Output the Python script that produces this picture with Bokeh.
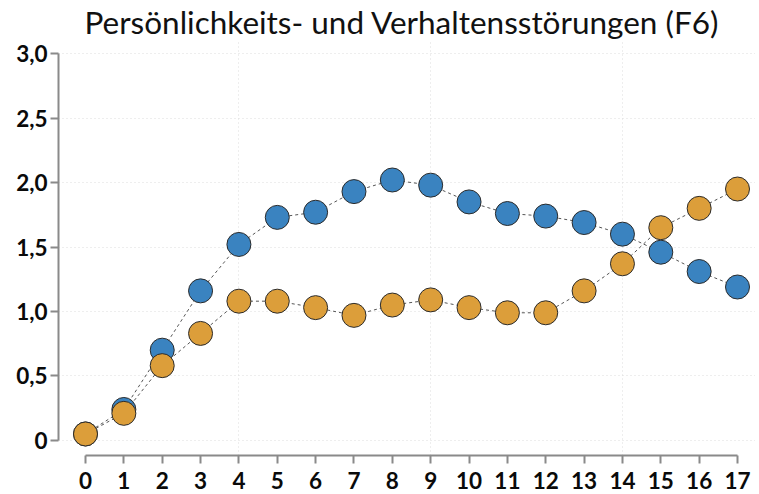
from bokeh.plotting import figure
from bokeh.models import Range1d, FixedTicker, ColumnDataSource
from bokeh.embed import file_html
from bokeh.resources import INLINE

title_text = "Persönlichkeits- und Verhaltensstörungen (F6)"
years = list(range(18))
blue_vals = [0.05, 0.24, 0.70, 1.16, 1.52, 1.73, 1.77, 1.93, 2.02, 1.98,
             1.85, 1.76, 1.74, 1.69, 1.60, 1.46, 1.31, 1.19]
orange_vals = [0.05, 0.21, 0.58, 0.83, 1.08, 1.08, 1.03, 0.97, 1.05, 1.09,
               1.03, 0.99, 0.99, 1.16, 1.37, 1.65, 1.80, 1.95]
y_ticks = [0, 0.5, 1.0, 1.5, 2.0, 2.5, 3.0]
y_tick_labels = ["0", "0,5", "1,0", "1,5", "2,0", "2,5", "3,0"]
x_ticks = list(range(18))
grid_x = [4, 9, 14]

BLUE = "#3a83c0"
ORANGE = "#dc9e3a"
FONT = "Lato"

p = figure(width=755, height=492, output_backend="svg",
           toolbar_location=None,
           x_range=Range1d(-0.704, 17.469), y_range=Range1d(-0.117, 3.102),
           min_border_left=58, min_border_right=0, min_border_top=0,
           min_border_bottom=37)

p.title.text = title_text
p.title.align = "left"
p.title.text_font = FONT
p.title.text_font_style = "normal"
p.title.text_font_size = "31.5px"
p.title.text_color = "#111111"
p.title.standoff = 0
p.title.offset = 26

p.outline_line_color = None

for ax in (p.xaxis[0], p.yaxis[0]):
    ax.axis_line_color = "#8a8a8a"
    ax.axis_line_width = 2
    ax.major_tick_line_color = "#8a8a8a"
    ax.major_tick_line_width = 2
    ax.major_tick_out = 8
    ax.major_tick_in = 0
    ax.minor_tick_line_color = None
    ax.major_label_text_font = FONT
    ax.major_label_text_font_style = "bold"
    ax.major_label_text_font_size = "22.5px"
    ax.major_label_text_color = "#0a0a0a"

p.xaxis[0].ticker = FixedTicker(ticks=x_ticks)
p.xaxis[0].bounds = (0, 17)
p.xaxis[0].major_label_standoff = 8
p.yaxis[0].ticker = FixedTicker(ticks=y_ticks)
p.yaxis[0].bounds = (0, 3)
p.yaxis[0].major_label_standoff = 3
p.yaxis[0].major_label_overrides = {t: l for t, l in zip(y_ticks, y_tick_labels)}

p.xgrid[0].ticker = FixedTicker(ticks=grid_x)
p.ygrid[0].ticker = FixedTicker(ticks=y_ticks)
for g in (p.xgrid[0], p.ygrid[0]):
    g.grid_line_color = "#dcdcdc"
    g.grid_line_dash = "1 3"
    g.grid_line_width = 1

src_b = ColumnDataSource(dict(x=years, y=blue_vals))
src_o = ColumnDataSource(dict(x=years, y=orange_vals))

p.line("x", "y", source=src_b, line_color="#555555", line_dash="3 3", line_width=1)
p.scatter("x", "y", source=src_b, size=24, fill_color=BLUE, line_color="#2b2b2b", line_width=1)
p.line("x", "y", source=src_o, line_color="#555555", line_dash="3 3", line_width=1)
p.scatter("x", "y", source=src_o, size=24, fill_color=ORANGE, line_color="#2b2b2b", line_width=1)

open("out.html", "w").write(file_html(p, INLINE))
